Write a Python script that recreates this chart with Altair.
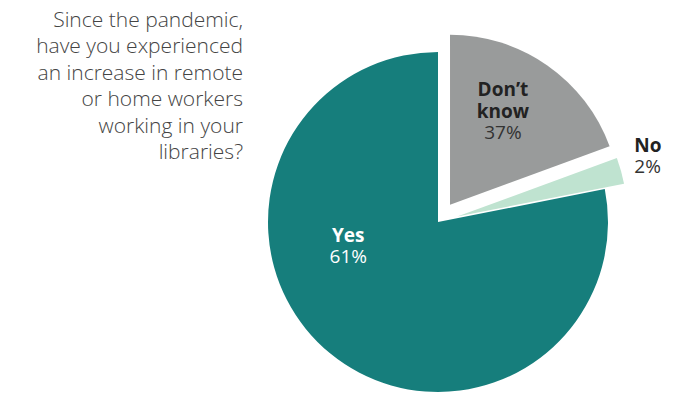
import math
import altair as alt
import pandas as pd

# ---- data ----
answers = ["Don't know", "No", "Yes"]
shares = [19.4, 2.5, 78.1]            # slice sizes as drawn (clockwise from 12 o'clock)
pct_labels = ["37%", "2%", "61%"]      # printed labels
name_lines = [["Don’t", "know"], ["No"], ["Yes"]]
question_lines = [
    "Since the pandemic,",
    "have you experienced",
    "an increase in remote",
    "or home workers",
    "working in your",
    "libraries?",
]

# ---- style ----
colors = ["#999b9b", "#bfe3d0", "#167e7c"]
explode = [21, 20, 0]
label_angle = [30.5, 71.5, 254.8]      # degrees, clockwise from north
label_radius = [128, 207, 93]
label_align = ["center", "left", "center"]
name_color = ["#222222", "#222222", "#ffffff"]
pct_color = ["#333333", "#333333", "#ffffff"]

PAD_TOP = 10
W, H = 684, 389 - PAD_TOP
CX, CY, R = 430, 214 - PAD_TOP, 170
LH = 21.5
FONT = "Open Sans"

order = list(range(len(answers)))
slices = pd.DataFrame({
    "answer": answers, "share": shares, "order": order,
    "explode": explode,
})

pie = alt.Chart(slices).transform_window(
    cum="sum(share)", sort=[alt.SortField("order")], frame=[None, 0]
).transform_joinaggregate(
    total="sum(share)"
).transform_calculate(
    t0="(datum.cum - datum.share) / datum.total * 2 * PI",
    t1="datum.cum / datum.total * 2 * PI",
).transform_calculate(
    mid="(datum.t0 + datum.t1) / 2",
).transform_calculate(
    px=f"{CX} + datum.explode * sin(datum.mid)",
    py=f"{CY} - datum.explode * cos(datum.mid)",
).mark_arc(radius=R).encode(
    theta=alt.Theta("t0:Q", scale=None),
    theta2="t1:Q",
    x=alt.X("px:Q", scale=None),
    y=alt.Y("py:Q", scale=None),
    color=alt.Color("answer:N", scale=alt.Scale(domain=answers, range=colors), legend=None),
)

# labels: one small layer per slice and line type
layers = []
for i, a in enumerate(answers):
    lines = [(t, "bold", name_color[i]) for t in name_lines[i]] + [(pct_labels[i], "normal", pct_color[i])]
    n = len(lines)
    ang = math.radians(label_angle[i])
    ax = CX + label_radius[i] * math.sin(ang)
    ay = CY - label_radius[i] * math.cos(ang)
    rows = [{"text": t, "x": ax, "y": ay + (j - (n - 1) / 2) * LH, "weight": w}
            for j, (t, w, c) in enumerate(lines)]
    df = pd.DataFrame(rows)
    for w, c in [("bold", name_color[i]), ("normal", pct_color[i])]:
        d = df[df.weight == w]
        layers.append(
            alt.Chart(d).mark_text(
                font=FONT, fontSize=19, fontWeight=w, align=label_align[i],
                baseline="middle", color=c,
            ).encode(
                x=alt.X("x:Q", scale=None), y=alt.Y("y:Q", scale=None), text="text:N"
            )
        )

q = pd.DataFrame({"text": question_lines, "i": list(range(len(question_lines)))})
question = alt.Chart(q).transform_calculate(
    x="235", y=f"{13 - PAD_TOP} + datum.i * 26.4"
).mark_text(
    font=FONT, fontSize=21, fontWeight=300, align="right", baseline="middle", color="#444444"
).encode(
    x=alt.X("x:Q", scale=None), y=alt.Y("y:Q", scale=None), text="text:N"
)

chart = alt.layer(pie, *layers, question).properties(
    width=W, height=H, autosize="none",
    padding={"left": 0, "top": PAD_TOP, "right": 0, "bottom": 0},
).configure_view(stroke=None)

chart.save("out.html", embed_options={"renderer": "svg", "actions": False})
